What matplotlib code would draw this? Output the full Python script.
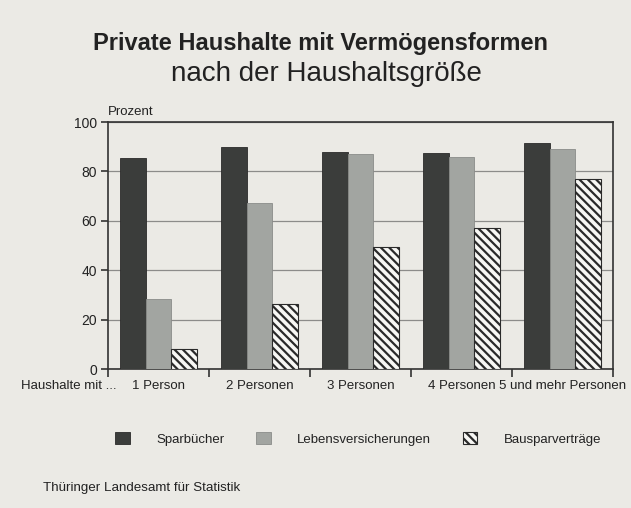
import matplotlib
matplotlib.use("Agg")
import matplotlib.pyplot as plt
import numpy as np

categories = ["1 Person", "2 Personen", "3 Personen", "4 Personen", "5 und mehr Personen"]
series_names = ["Sparbücher", "Lebensversicherungen", "Bausparverträge"]
sparbuecher = [85.6, 89.7, 87.9, 87.4, 91.5]
lebensvers = [28.4, 67.4, 87.2, 85.8, 88.9]
bauspar = [8.1, 26.4, 49.3, 56.9, 76.9]
yticks = [0, 20, 40, 60, 80, 100]

plt.rcParams['font.family'] = ['Liberation Sans', 'DejaVu Sans']
plt.rcParams['hatch.linewidth'] = 1.6
plt.rcParams['hatch.color'] = '#2a2a2a'

bg = '#ebeae5'
fig = plt.figure(figsize=(6.31, 5.08), dpi=100, facecolor=bg)
ax = fig.add_axes([0.1712, 0.2736, 0.8003, 0.4862], facecolor=bg)

x = np.arange(len(categories))
w = 0.255
b1 = ax.bar(x - w, sparbuecher, w, color='#3b3d3b', edgecolor='#2a2a2a', linewidth=0.6, zorder=3, label=series_names[0])
b2 = ax.bar(x, lebensvers, w, color='#a2a5a1', edgecolor='#8a8c89', linewidth=0.6, zorder=3, label=series_names[1])
b3 = ax.bar(x + w, bauspar, w, color='#f7f7f4', edgecolor='#2a2a2a', linewidth=0.8, hatch='\\\\\\\\', zorder=3, label=series_names[2])

ax.set_xlim(-0.5, len(categories) - 0.5)
ax.set_ylim(0, 100)
ax.set_yticks(yticks)
ax.set_yticklabels([str(v) for v in yticks], fontsize=10, color='#222222')
ax.yaxis.grid(True, color='#8c8c8a', linewidth=0.9, zorder=0)
ax.set_axisbelow(True)

# category boundary ticks
ax.set_xticks(np.arange(len(categories) + 1) - 0.5)
ax.set_xticklabels([])
ax.tick_params(axis='x', direction='out', length=6, width=1.2, color='#333333')
ax.tick_params(axis='y', direction='out', length=5, width=1.2, color='#333333', pad=3)
for i, c in enumerate(categories):
    ax.text(i, -4.5, c, ha='center', va='top', fontsize=9.5, color='#222222',
            transform=ax.transData)
ax.text(-0.42, -4.5, "Haushalte mit ...", ha='right', va='top', fontsize=9.5, color='#222222')

for s in ax.spines.values():
    s.set_color('#333333')
    s.set_linewidth(1.2)

ax.text(0.0, 1.015, "Prozent", transform=ax.transAxes, ha='left', va='bottom', fontsize=9.5, color='#222222')

fig.text(0.508, 0.915, "Private Haushalte mit Vermögensformen", ha='center', va='center',
         fontsize=17, fontweight='bold', color='#222222')
fig.text(0.518, 0.854, "nach der Haushaltsgröße", ha='center', va='center',
         fontsize=20, color='#222222')

leg = fig.legend(handles=[b1, b2, b3], loc='center left', bbox_to_anchor=(0.164, 0.136),
                 ncol=3, frameon=False, fontsize=9.5, handlelength=1.1, handleheight=1.0,
                 handletextpad=2.0, columnspacing=2.4)
for t in leg.get_texts():
    t.set_color('#222222')

fig.text(0.068, 0.040, "Thüringer Landesamt für Statistik", ha='left', va='center',
         fontsize=9.6, color='#222222')

fig.savefig("out.png", dpi=100, facecolor=bg)
